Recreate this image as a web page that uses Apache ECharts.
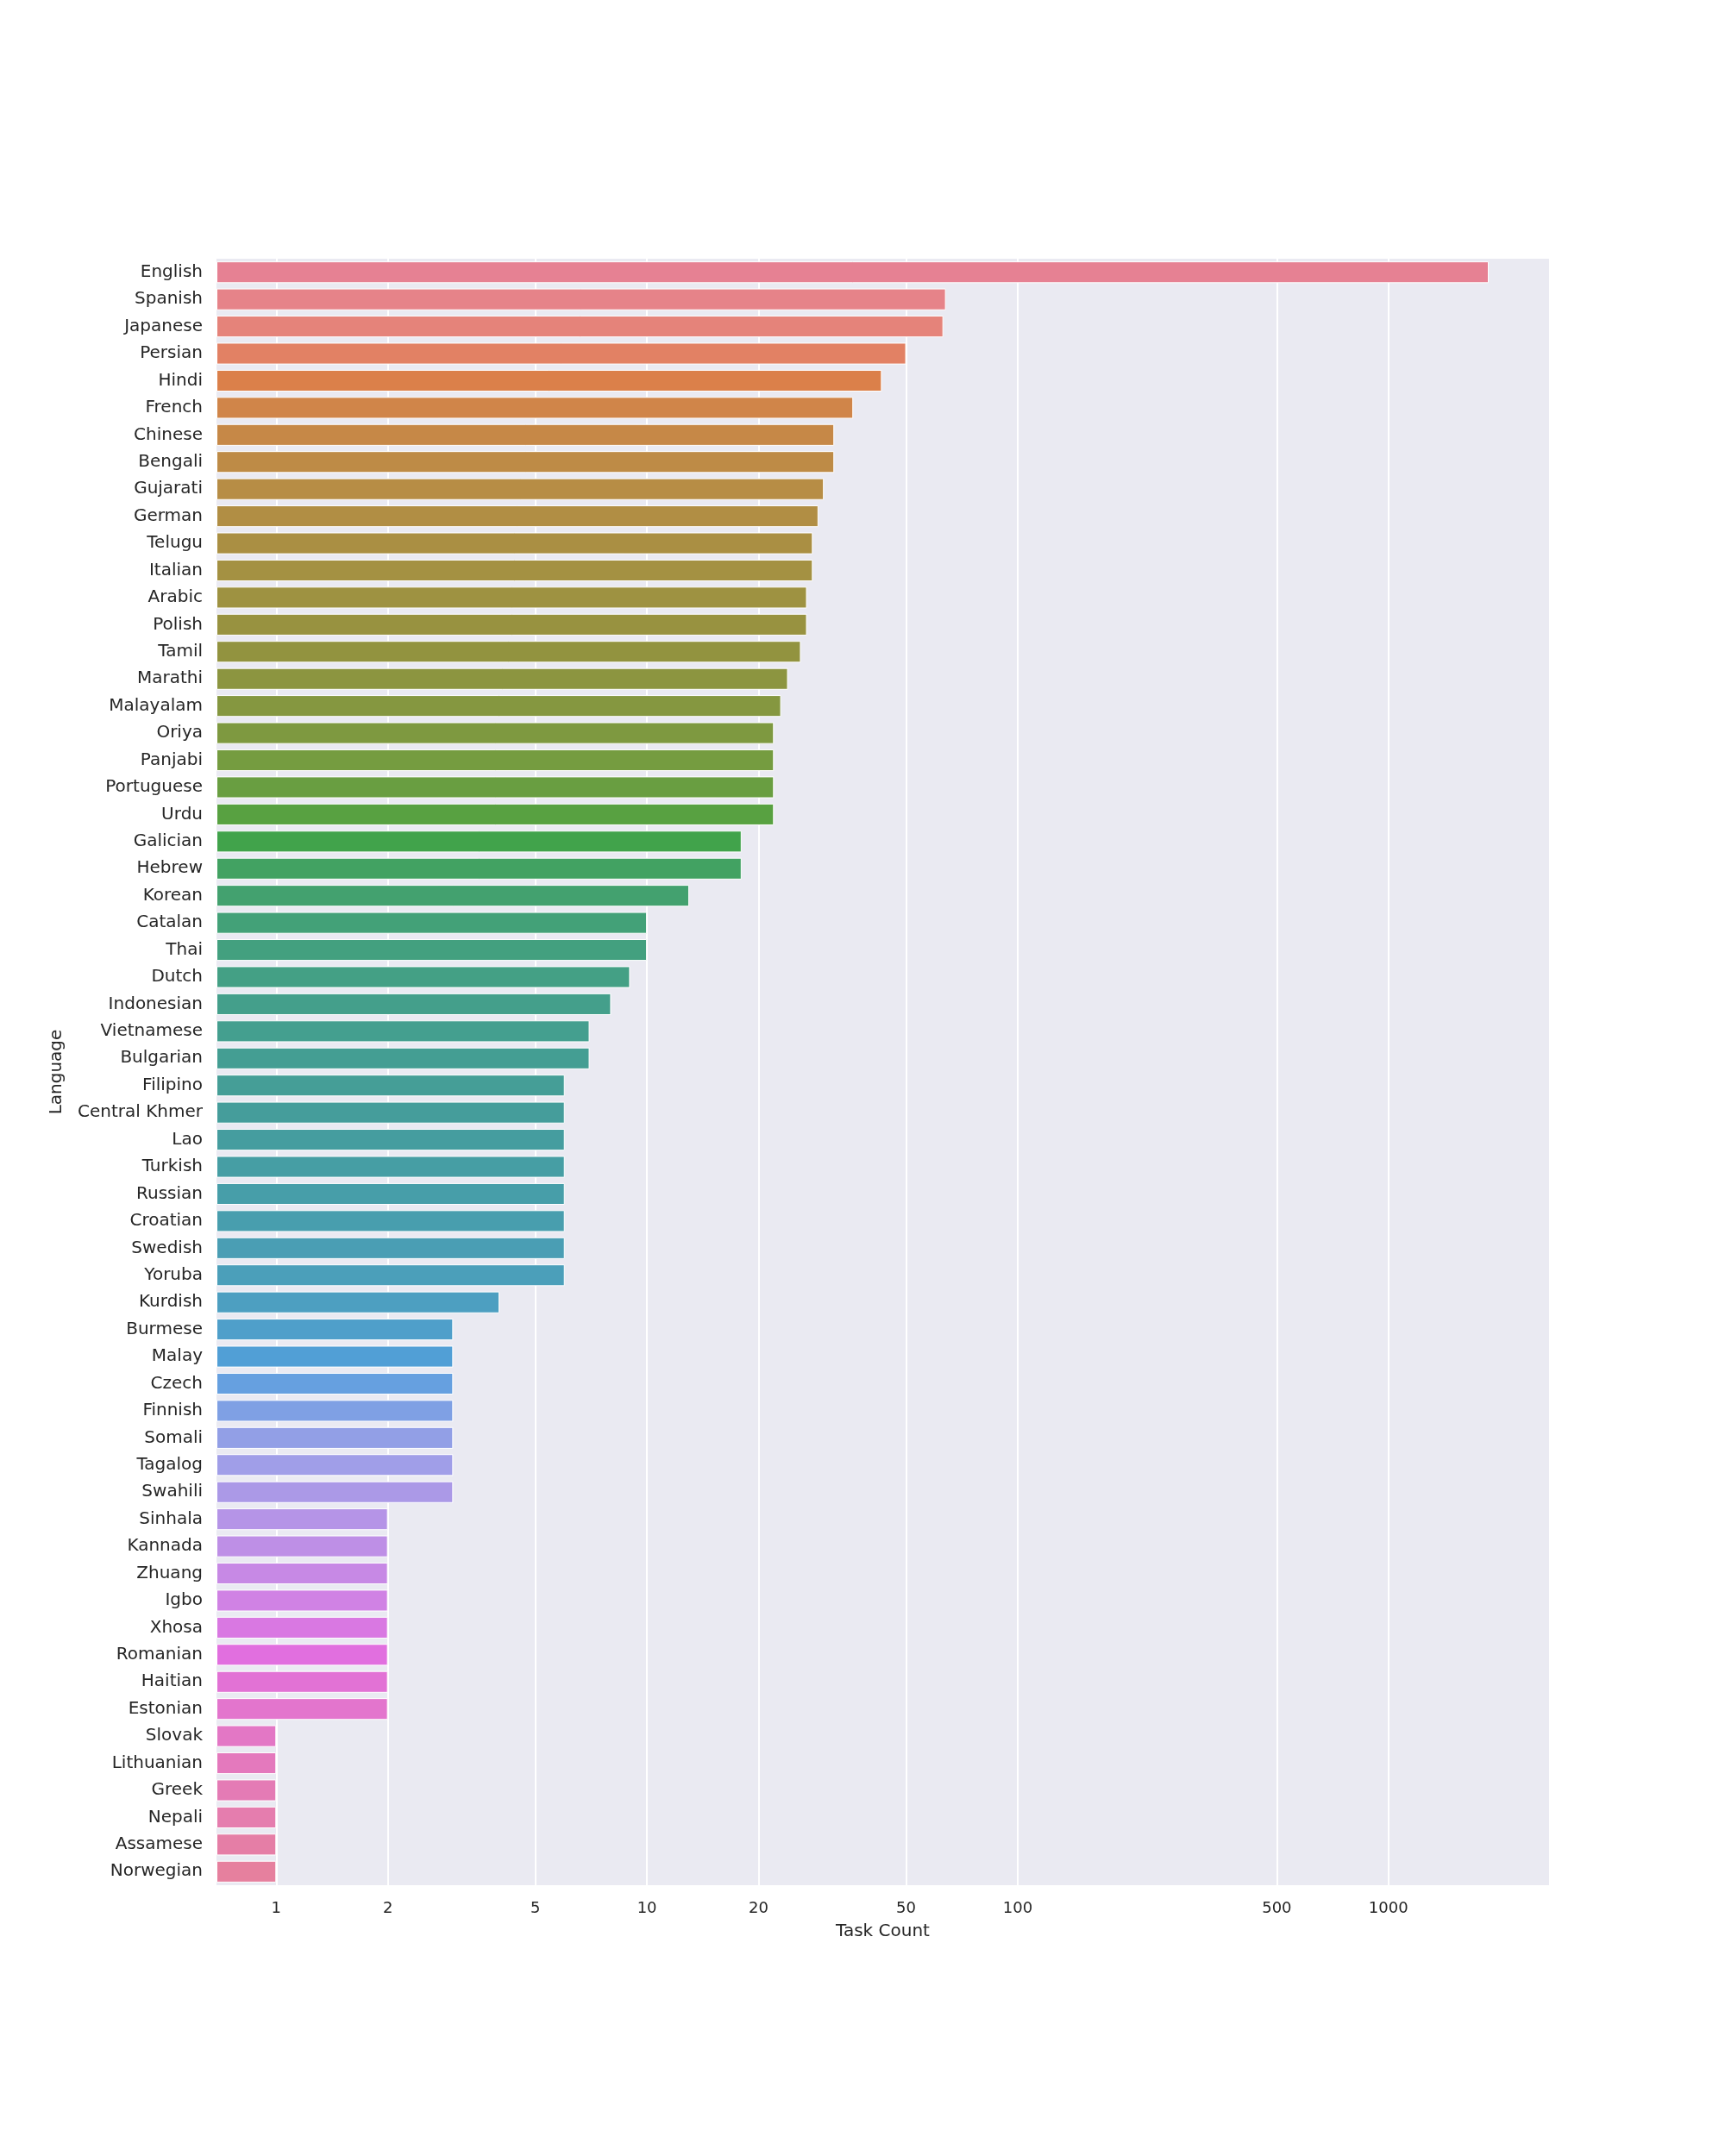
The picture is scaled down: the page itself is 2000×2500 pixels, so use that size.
<!DOCTYPE html>
<html>
<head>
<meta charset="utf-8">
<script src="https://cdn.jsdelivr.net/npm/echarts@6/dist/echarts.min.js"></script>
<style>html,body{margin:0;padding:0;background:#fff}#chart{width:2000px;height:2500px}</style>
</head>
<body>
<div id="chart"></div>
<script>
var languages = ['English','Spanish','Japanese','Persian','Hindi','French','Chinese','Bengali','Gujarati','German','Telugu','Italian','Arabic','Polish','Tamil','Marathi','Malayalam','Oriya','Panjabi','Portuguese','Urdu','Galician','Hebrew','Korean','Catalan','Thai','Dutch','Indonesian','Vietnamese','Bulgarian','Filipino','Central Khmer','Lao','Turkish','Russian','Croatian','Swedish','Yoruba','Kurdish','Burmese','Malay','Czech','Finnish','Somali','Tagalog','Swahili','Sinhala','Kannada','Zhuang','Igbo','Xhosa','Romanian','Haitian','Estonian','Slovak','Lithuanian','Greek','Nepali','Assamese','Norwegian'];
var taskCounts = [1864,64,63,50,43,36,32,32,30,29,28,28,27,27,26,24,23,22,22,22,22,18,18,13,10,10,9,8,7,7,6,6,6,6,6,6,6,6,4,3,3,3,3,3,3,3,2,2,2,2,2,2,2,2,1,1,1,1,1,1];
var tickValues = [1,2,5,10,20,50,100,500,1000];
var axisMinValue = 0.69, axisMaxValue = 2712;

var OFFSET = -Math.log10(axisMinValue);
function pos(v) { return Math.log10(v) + OFFSET; }

// husl palette (seaborn-like), desaturated
var M = [[3.240969941904521,-1.537383177570093,-0.498610760293],[-0.96924363628087,1.87596750150772,0.041555057407175],[0.055630079696993,-0.20397695888897,1.056971514242878]];
var KAPPA = 903.2962962, EPS = 0.0088564516;
function maxChroma(L, H) {
  var sub1 = Math.pow(L + 16, 3) / 1560896, sub2 = sub1 > EPS ? sub1 : L / KAPPA;
  var hr = H / 180 * Math.PI, best = Infinity;
  for (var c = 0; c < 3; c++) {
    var m1 = M[c][0], m2 = M[c][1], m3 = M[c][2];
    for (var t = 0; t < 2; t++) {
      var top1 = (284517 * m1 - 94839 * m3) * sub2;
      var top2 = (838422 * m3 + 769860 * m2 + 731718 * m1) * L * sub2 - 769860 * t * L;
      var bottom = (632260 * m3 - 126452 * m2) * sub2 + 126452 * t;
      var len = (top2 / bottom) / (Math.sin(hr) - (top1 / bottom) * Math.cos(hr));
      if (len >= 0 && len < best) best = len;
    }
  }
  return best;
}
function husl(H, S, L) {
  var C = maxChroma(L, H) / 100 * S, hr = H / 180 * Math.PI;
  var U = C * Math.cos(hr), V = C * Math.sin(hr);
  var vu = U / (13 * L) + 0.19783000664283, vv = V / (13 * L) + 0.46831999493879;
  var Y = L <= 8 ? L / KAPPA : Math.pow((L + 16) / 116, 3);
  var X = -(9 * Y * vu) / ((vu - 4) * vv - vu * vv);
  var Z = (9 * Y - 15 * vv * Y - vv * X) / (3 * vv);
  return M.map(function (r) {
    var c = r[0] * X + r[1] * Y + r[2] * Z;
    c = c <= 0.0031308 ? 12.92 * c : 1.055 * Math.pow(c, 1 / 2.4) - 0.055;
    return Math.min(1, Math.max(0, c));
  });
}
function desat(rgb, p) {
  var r = rgb[0], g = rgb[1], b = rgb[2], mx = Math.max(r, g, b), mn = Math.min(r, g, b);
  var l = (mx + mn) / 2, s = 0, h = 0, d = mx - mn;
  if (d > 0) {
    s = l > 0.5 ? d / (2 - mx - mn) : d / (mx + mn);
    h = mx === r ? (g - b) / d + (g < b ? 6 : 0) : mx === g ? (b - r) / d + 2 : (r - g) / d + 4;
    h *= 60;
  }
  return 'hsl(' + h.toFixed(2) + ',' + (s * p * 100).toFixed(2) + '%,' + (l * 100).toFixed(2) + '%)';
}
var n = languages.length;
var data = taskCounts.map(function (v, i) {
  var h = ((i / n + 0.01) % 1) * 359;
  return { value: pos(v), itemStyle: { color: desat(husl(h, 89.1, 64.35), 0.75) } };
});

var chart = echarts.init(document.getElementById('chart'));
chart.setOption({
  backgroundColor: '#fff',
  textStyle: { fontFamily: 'DejaVu Sans' },
  grid: { left: 251, right: 204, top: 300, bottom: 314, show: true, backgroundColor: '#eaeaf2', borderWidth: 0 },
  xAxis: {
    type: 'value', min: 0, max: pos(axisMaxValue),
    name: 'Task Count', nameLocation: 'middle', nameGap: 44,
    nameTextStyle: { fontSize: 20, color: '#262626' },
    axisLine: { show: false },
    axisTick: { show: false, customValues: tickValues.map(pos) },
    axisLabel: { customValues: tickValues.map(pos), fontSize: 18, color: '#262626', margin: 18,
      formatter: function (v) { return String(Math.round(Math.pow(10, v - OFFSET))); } },
    splitLine: { show: true, lineStyle: { color: '#fff', width: 2 } }
  },
  yAxis: {
    type: 'category', data: languages, inverse: true,
    name: 'Language', nameLocation: 'middle', nameGap: 175, nameRotate: 90,
    nameTextStyle: { fontSize: 20, color: '#262626' },
    axisLine: { show: false }, axisTick: { show: false },
    axisLabel: { fontSize: 20, color: '#262626', margin: 16 }
  },
  series: [{
    type: 'bar', data: data, barCategoryGap: '20%',
    itemStyle: { borderColor: '#fff', borderWidth: 1 }
  }]
});
</script>
</body>
</html>
